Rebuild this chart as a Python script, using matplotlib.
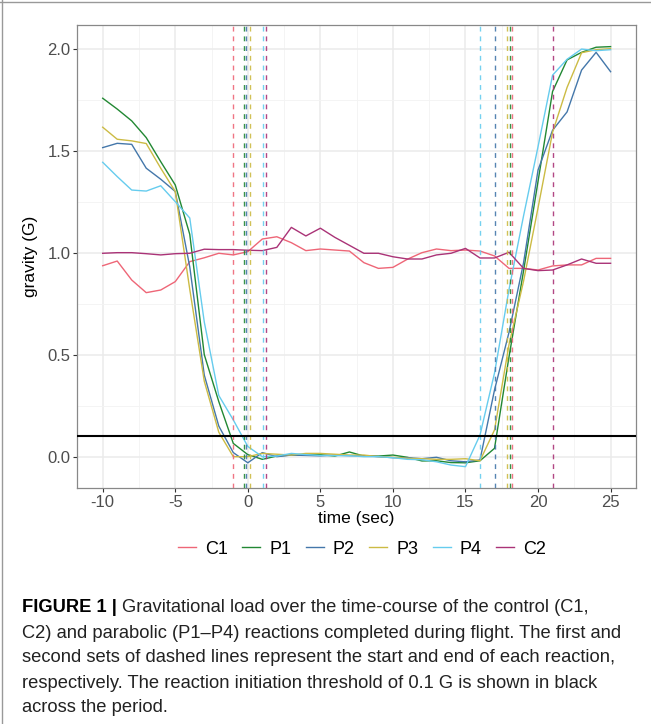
import matplotlib
matplotlib.use("Agg")
import matplotlib.pyplot as plt
from matplotlib.lines import Line2D

plt.rcParams['font.family'] = ['Liberation Sans', 'DejaVu Sans']

# time in seconds relative to start of reaction window
time = list(range(-10, 26))

c1 = [0.936, 0.959, 0.866, 0.804, 0.817, 0.858, 0.956, 0.975, 0.997, 0.989,
      1.005, 1.067, 1.078, 1.049, 1.010, 1.018, 1.013, 1.008, 0.951, 0.923,
      0.928, 0.968, 1.000, 1.018, 1.010, 1.013, 1.008, 0.984, 0.923, 0.923,
      0.915, 0.935, 0.940, 0.940, 0.972, 0.972]
p1 = [1.757, 1.704, 1.646, 1.564, 1.446, 1.332, 1.090, 0.500, 0.270, 0.065,
      0.010, -0.013, 0.003, 0.008, 0.008, 0.010, 0.003, 0.023, 0.003, 0.003,
      0.008, -0.003, -0.021, -0.020, -0.029, -0.030, -0.020, 0.041, 0.490, 0.910,
      1.350, 1.790, 1.945, 1.982, 2.007, 2.010]
p2 = [1.515, 1.536, 1.531, 1.414, 1.360, 1.300, 0.930, 0.400, 0.150, 0.020,
      -0.030, 0.020, 0.000, 0.008, 0.006, 0.004, 0.008, 0.005, 0.005, 0.000,
      -0.005, -0.005, -0.010, -0.003, -0.020, -0.025, -0.016, 0.327, 0.610, 0.950,
      1.405, 1.600, 1.690, 1.895, 1.982, 1.887]
p3 = [1.615, 1.556, 1.548, 1.535, 1.414, 1.300, 0.820, 0.370, 0.120, 0.000,
      0.000, 0.016, 0.012, 0.008, 0.016, 0.016, 0.012, 0.008, 0.008, 0.000,
      -0.003, -0.008, -0.010, -0.013, -0.013, -0.010, -0.020, 0.131, 0.550, 0.860,
      1.220, 1.590, 1.810, 1.980, 1.995, 2.000]
p4 = [1.443, 1.373, 1.307, 1.302, 1.328, 1.250, 1.170, 0.660, 0.300, 0.180,
      0.050, 0.000, 0.003, 0.016, 0.010, 0.006, 0.005, 0.005, 0.000, 0.000,
      -0.005, -0.013, -0.015, -0.025, -0.041, -0.049, 0.106, 0.410, 0.820, 1.180,
      1.520, 1.870, 1.948, 1.998, 1.990, 1.995]
c2 = [0.997, 1.000, 1.000, 0.995, 0.989, 0.995, 0.997, 1.017, 1.015, 1.015,
      1.012, 1.010, 1.026, 1.124, 1.082, 1.120, 1.075, 1.036, 0.997, 0.997,
      0.980, 0.969, 0.969, 0.989, 0.997, 1.021, 0.974, 0.974, 1.002, 0.923,
      0.912, 0.915, 0.940, 0.969, 0.948, 0.948]

names = ['C1', 'P1', 'P2', 'P3', 'P4', 'C2']
series = [c1, p1, p2, p3, p4, c2]
colors = ['#EE6677', '#228833', '#4477AA', '#CCBB44', '#66CCEE', '#AA3377']

# reaction start / end times (sec)
starts = [-1.0, -0.23, -0.12, 0.16, 1.08, 1.24]
ends = [18.23, 18.04, 17.03, 17.83, 16.0, 21.05]
threshold = 0.1

xticks = [-10, -5, 0, 5, 10, 15, 20, 25]
xtick_labels = ['-10', '-5', '0', '5', '10', '15', '20', '25']
yticks = [0.0, 0.5, 1.0, 1.5, 2.0]
ytick_labels = ['0.0', '0.5', '1.0', '1.5', '2.0']

W, H = 651, 724
fig = plt.figure(figsize=(W / 100, H / 100), dpi=100)
ax = fig.add_axes([77.3 / W, 1 - 488.3 / H, (636 - 77.3) / W, (488.3 - 25) / H])

for name, vals, col in zip(names, series, colors):
    ax.plot(time, vals, color=col, lw=1.0, label=name, zorder=3)

for s, e, col in zip(starts, ends, colors):
    ax.axvline(s, color=col, lw=1.0, ls=(0, (3.5, 3.5)), alpha=0.9, zorder=4)
    ax.axvline(e, color=col, lw=1.0, ls=(0, (3.5, 3.5)), alpha=0.9, zorder=4)

ax.axhline(threshold, color='black', lw=1.5, zorder=5)

ax.set_xlim(-11.75, 26.75)
ax.set_ylim(-0.155, 2.116)
ax.set_xticks(xticks)
ax.set_xticklabels(xtick_labels)
ax.set_yticks(yticks)
ax.set_yticklabels(ytick_labels)
ax.set_xticks([-7.5, -2.5, 2.5, 7.5, 12.5, 17.5, 22.5], minor=True)
ax.set_yticks([0.25, 0.75, 1.25, 1.75], minor=True)
ax.grid(which='major', color='#EBEBEB', lw=1.1)
ax.grid(which='minor', color='#F3F3F3', lw=0.6)
ax.set_axisbelow(True)
ax.tick_params(which='major', length=3, color='#333333', labelsize=12,
               labelcolor='#4D4D4D', pad=2)
ax.tick_params(which='minor', length=0)
for sp in ax.spines.values():
    sp.set_color('#888888')
    sp.set_linewidth(0.9)

fig.text(30 / W, 1 - 256 / H, 'gravity (G)', rotation=90, ha='center',
         va='center', fontsize=12.5)
fig.text(356 / W, 1 - 519 / H, 'time (sec)', ha='center', va='center', fontsize=12.5)

handles = [Line2D([], [], color=c, lw=1.0) for c in colors]
fig.legend(handles, names, loc='center', bbox_to_anchor=(362 / W, 1 - 549 / H),
           ncol=6, frameon=False, handlelength=1.0, handletextpad=0.5,
           columnspacing=0.8, fontsize=13)

# caption
cap_lines = [
    'Gravitational load over the time-course of the control (C1,',
    'C2) and parabolic (P1\u2013P4) reactions completed during flight. The first and',
    'second sets of dashed lines represent the start and end of each reaction,',
    'respectively. The reaction initiation threshold of 0.1 G is shown in black',
    'across the period.',
]
cap_y = [608, 633, 658, 683, 708]
cap_size = 13.2
renderer = fig.canvas.get_renderer()
bold = fig.text(22 / W, 1 - cap_y[0] / H, 'FIGURE 1 | ', weight='bold',
                fontsize=cap_size, va='center', ha='left')
bb = bold.get_window_extent(renderer)
fig.text(bb.x1 / W, 1 - cap_y[0] / H, cap_lines[0], fontsize=cap_size,
         va='center', ha='left', color='#222222')
for line, y in zip(cap_lines[1:], cap_y[1:]):
    fig.text(22 / W, 1 - y / H, line, fontsize=cap_size, va='center', ha='left',
             color='#222222')

# page border lines
fig.add_artist(Line2D([0, 1], [1 - 2 / H, 1 - 2 / H], color='#999999', lw=1.0))
fig.add_artist(Line2D([2 / W, 2 / W], [0, 1], color='#999999', lw=1.0))

fig.savefig('out.png', dpi=100)
